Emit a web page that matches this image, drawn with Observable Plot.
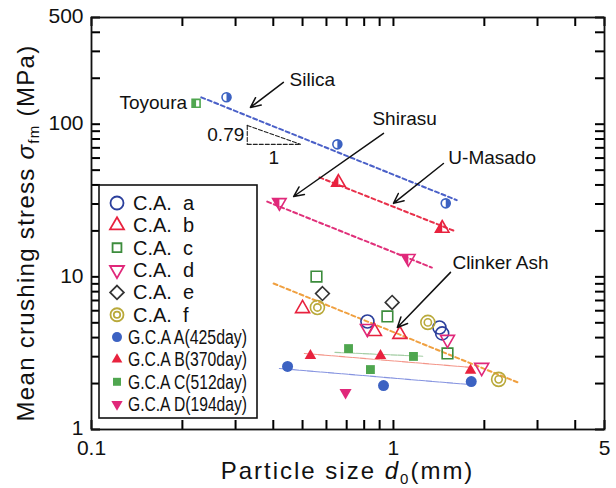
<!DOCTYPE html>
<html><head><meta charset="utf-8">
<script src="https://cdn.jsdelivr.net/npm/d3@7"></script>
<script src="https://cdn.jsdelivr.net/npm/@observablehq/plot@0.6"></script>
<style>body{margin:0;background:#fff}</style>
</head><body><div id="chart"></div>
<script>
// ---- axis ticks ----
const xTickLabels = [0.1, 1, 5];
const yTickLabels = [1, 10, 100, 500];
const xMinorTicks = [0.2,0.3,0.4,0.5,0.6,0.7,0.8,0.9,2,3,4];
const yMinorTicks = [2,3,4,5,6,7,8,9,20,30,40,50,60,70,80,90,200,300,400];

// ---- named sands (half-filled markers) ----
const silicaX = [0.28, 0.652, 1.49];
const silicaY = [150, 73.8, 30.3];
const toyouraX = [0.222];
const toyouraY = [137];
const shirasuX = [0.419, 1.12];
const shirasuY = [30.7, 13.2];
const umasadoX = [0.657, 1.45];
const umasadoY = [41.6, 20.8];

// ---- clinker ash C.A. a-f (open markers) ----
const caA_x = [0.82, 1.42, 1.45];   const caA_y = [5.1, 4.66, 4.26];
const caB_x = [0.50, 0.865, 1.05];  const caB_y = [6.2, 4.39, 4.2];
const caC_x = [0.556, 0.955, 1.51]; const caC_y = [10.05, 5.5, 3.15];
const caD_x = [0.82, 1.51, 1.96];   const caD_y = [4.59, 3.89, 2.55];
const caE_x = [0.582, 0.99];        const caE_y = [7.77, 6.8];
const caF_x = [0.56, 1.30, 2.23];   const caF_y = [6.3, 5.03, 2.13];

// ---- G.C.A A-D (filled markers) ----
const gcaA_x = [0.446, 0.927, 1.81]; const gcaA_y = [2.59, 1.94, 2.06];
const gcaB_x = [0.531, 0.906, 1.80]; const gcaB_y = [3.05, 3.05, 2.44];
const gcaC_x = [0.71, 1.165, 0.839]; const gcaC_y = [3.39, 3.01, 2.47];
const gcaD_x = [0.694];              const gcaD_y = [1.75];

// ---- fitted lines ----
const silicaLineX = [0.231, 1.62];  const silicaLineY = [150, 31.8];
const umasadoLineX = [0.569, 1.58]; const umasadoLineY = [44.8, 20.1];
const shirasuLineX = [0.382, 1.34]; const shirasuLineY = [31.1, 11.5];
const clinkerLineX = [0.401, 2.59]; const clinkerLineY = [9.04, 2.03];
const fitA_x = [0.419, 1.785]; const fitA_y = [2.51, 1.97];
const fitB_x = [0.507, 1.82];  const fitB_y = [3.15, 2.55];
const fitC_x = [0.64, 1.25];   const fitC_y = [3.2, 3.02];

// ---- slope triangle ----
const slopeX = [0.328, 0.492];
const slopeY = [98.2, 73.8];

// ---- annotations ----
const labelTexts = ["Silica", "Shirasu", "U-Masado", "Clinker Ash"];
const labelX = [0.453, 0.852, 1.52, 1.568];
const labelY = [194, 109, 59.7, 12.4];
const arrowFromX = [0.432, 0.927, 1.464, 1.545];
const arrowFromY = [188, 87.1, 55.3, 10.7];
const arrowToX = [0.336, 0.467, 1.0, 1.03];
const arrowToY = [128.8, 33.6, 30.3, 4.66];

const legendLabels = ["C.A.  a","C.A.  b","C.A.  c","C.A.  d","C.A.  e","C.A.  f",
  "G.C.A A(425day)","G.C.A B(370day)","G.C.A C(512day)","G.C.A D(194day)"];

// colours
const cBlue = "#2b3f9c", cRed = "#e8223e", cGreen = "#3c8c3c", cMag = "#e0287a",
      cGray = "#333333", cOlive = "#b9a93a", cBlueF = "#3c62c2", cGreenF = "#4fa64f";

// ---- custom symbols ----
const S3 = Math.sqrt(3);
const triDown = {draw(ctx, size){ const y = -Math.sqrt(size/(S3*3));
  ctx.moveTo(0,-2*y); ctx.lineTo(-S3*y, y); ctx.lineTo(S3*y, y); ctx.closePath(); }};
const halfCircle = {draw(ctx, size){ const r = Math.sqrt(size/Math.PI);
  ctx.moveTo(0,-r); ctx.arc(0,0,r,-Math.PI/2,Math.PI/2); ctx.closePath(); }};
const halfSquare = {draw(ctx, size){ const s = Math.sqrt(size)/2;
  ctx.moveTo(-s,-s); ctx.lineTo(0,-s); ctx.lineTo(0,s); ctx.lineTo(-s,s); ctx.closePath(); }};
const halfTriUp = {draw(ctx, size){ const y = -Math.sqrt(size/(S3*3));
  ctx.moveTo(0,2*y); ctx.lineTo(0,-y); ctx.lineTo(S3*y,-y); ctx.closePath(); }};
const halfTriDown = {draw(ctx, size){ const y = -Math.sqrt(size/(S3*3));
  ctx.moveTo(0,-2*y); ctx.lineTo(0,y); ctx.lineTo(S3*y,y); ctx.closePath(); }};

const pts = (xs, ys) => xs.map((x, i) => ({x, y: ys[i]}));

const openDot = (xs, ys, symbol, stroke, r) =>
  Plot.dot(pts(xs, ys), {x: "x", y: "y", symbol, stroke, fill: "none", strokeWidth: 1.6, r});
const fillDot = (xs, ys, symbol, fill, r) =>
  Plot.dot(pts(xs, ys), {x: "x", y: "y", symbol, fill, stroke: "none", r});
const dashLine = (xs, ys, stroke) =>
  Plot.line(pts(xs, ys), {x: "x", y: "y", stroke, strokeWidth: 2, strokeDasharray: "4,3"});
const thinLine = (xs, ys, stroke) =>
  Plot.line(pts(xs, ys), {x: "x", y: "y", stroke, strokeWidth: 1.1, strokeOpacity: 0.8, strokeDasharray: "6,1"});

const W = 616, H = 488, ML = 91, MR = 12, MT = 17, MB = 59;
const FW = W - ML - MR, FH = H - MT - MB, TL = 9;
const xDomain = [0.1, 5], yDomain = [1, 500];

const slopeLines = [
  [{x: slopeX[0], y: slopeY[0]}, {x: slopeX[0], y: slopeY[1]}],
  [{x: slopeX[0], y: slopeY[1]}, {x: slopeX[1], y: slopeY[1]}],
  [{x: slopeX[0], y: slopeY[0]}, {x: slopeX[1], y: slopeY[1]}]
];
const allX = [...xTickLabels, ...xMinorTicks];
const allY = [...yTickLabels, ...yMinorTicks];
const tk = {stroke: "#000", strokeWidth: 2, strokeOpacity: 1};

const chart = Plot.plot({
  width: W, height: H,
  marginLeft: ML, marginRight: MR, marginTop: MT, marginBottom: MB,
  x: {type: "log", domain: xDomain, axis: null},
  y: {type: "log", domain: yDomain, axis: null},
  style: {fontFamily: "'Liberation Sans', Arial, sans-serif", fontSize: "21px", background: "white", color: "#111"},
  marks: [
    // tick labels
    Plot.text(xTickLabels, {x: d => d, frameAnchor: "bottom", dy: 25, text: d => String(d), fontSize: 21, fill: "#111"}),
    Plot.text(yTickLabels, {y: d => d, frameAnchor: "left", dx: -8, dy: -1, textAnchor: "end", text: d => String(d), fontSize: 21, fill: "#111"}),
    // inward ticks on all four sides
    Plot.tickX(allX, {x: d => d, ...tk, insetTop: FH - TL}),
    Plot.tickX(allX, {x: d => d, ...tk, insetBottom: FH - TL}),
    Plot.tickY(allY, {y: d => d, ...tk, insetRight: FW - TL}),
    Plot.tickY(allY, {y: d => d, ...tk, insetLeft: FW - TL}),
    // lines
    dashLine(silicaLineX, silicaLineY, "#4a60c8"),
    dashLine(umasadoLineX, umasadoLineY, "#e8304a"),
    dashLine(shirasuLineX, shirasuLineY, "#e0307a"),
    dashLine(clinkerLineX, clinkerLineY, "#f0a040"),
    thinLine(fitA_x, fitA_y, "#6678d8"),
    thinLine(fitB_x, fitB_y, "#f07a6a"),
    thinLine(fitC_x, fitC_y, "#8cc08c"),
    ...slopeLines.map(s => Plot.line(s, {x: "x", y: "y", stroke: "#222", strokeWidth: 1.1, strokeDasharray: "4,2"})),
    // named sands
    openDot(silicaX, silicaY, "circle", cBlueF, 4.5),
    fillDot(silicaX, silicaY, halfCircle, cBlueF, 4.5),
    openDot(toyouraX, toyouraY, "square", cGreenF, 4.5),
    fillDot(toyouraX, toyouraY, halfSquare, cGreenF, 4.5),
    openDot(umasadoX, umasadoY, "triangle", cRed, 5),
    fillDot(umasadoX, umasadoY, halfTriUp, cRed, 5),
    openDot(shirasuX, shirasuY, triDown, cMag, 5),
    fillDot(shirasuX, shirasuY, halfTriDown, cMag, 5),
    // C.A.
    openDot(caA_x, caA_y, "circle", cBlue, 6.5),
    openDot(caB_x, caB_y, "triangle", cRed, 5.2),
    openDot(caC_x, caC_y, "square", cGreen, 6),
    openDot(caD_x, caD_y, triDown, cMag, 5.2),
    openDot(caE_x, caE_y, "diamond2", cGray, 6.2),
    openDot(caF_x, caF_y, "circle", cOlive, 7),
    openDot(caF_x, caF_y, "circle", cOlive, 3.6),
    // G.C.A.
    fillDot(gcaA_x, gcaA_y, "circle", cBlueF, 5.5),
    fillDot(gcaB_x, gcaB_y, "triangle", cRed, 4.3),
    fillDot(gcaC_x, gcaC_y, "square", cGreenF, 5),
    fillDot(gcaD_x, gcaD_y, triDown, cMag, 4.5),
    // annotations
    Plot.arrow(arrowFromX.map((x, i) => i), {
      x1: i => arrowFromX[i], y1: i => arrowFromY[i], x2: i => arrowToX[i], y2: i => arrowToY[i],
      stroke: "#111", strokeWidth: 1.5, headLength: 11, headAngle: 50}),
    Plot.text(labelTexts, {x: (d, i) => labelX[i], y: (d, i) => labelY[i], text: d => d,
      textAnchor: "start", fontSize: 19, fill: "#111"}),
    Plot.text(["Toyoura"], {x: toyouraX[0], y: toyouraY[0], text: d => d, textAnchor: "end", dx: -9, fontSize: 19, fill: "#111"}),
    Plot.text(["0.79"], {x: slopeX[0], y: Math.sqrt(slopeY[0]*slopeY[1]), text: d => d, textAnchor: "end", dx: -3, fontSize: 19, fill: "#111"}),
    Plot.text(["1"], {x: Math.sqrt(slopeX[0]*slopeX[1]), y: slopeY[1], text: d => d, dy: 14, fontSize: 19, fill: "#111"}),
    Plot.frame({stroke: "#111", strokeWidth: 1.8})
  ]
});
document.getElementById("chart").appendChild(chart);

const svg = d3.select(chart);

// ---- axis titles ----
const xt = svg.append("text").attr("x", ML + FW / 2).attr("y", 479).attr("text-anchor", "middle")
  .style("font-size", "24px").style("letter-spacing", "2px").attr("fill", "#111");
xt.append("tspan").text("Particle size ");
xt.append("tspan").text("d").style("font-style", "italic");
xt.append("tspan").text("0").style("font-size", "15px").attr("dy", 5);
xt.append("tspan").text("(mm)").attr("dy", -5);

const yt = svg.append("text").attr("transform", `translate(34,${MT + FH / 2 + 10}) rotate(-90)`)
  .attr("text-anchor", "middle").style("font-size", "24px").style("letter-spacing", "1.3px").attr("fill", "#111");
yt.append("tspan").text("Mean crushing stress ");
yt.append("tspan").text("σ").style("font-style", "italic");
yt.append("tspan").text("fm").style("font-size", "15px").attr("dy", 5);
yt.append("tspan").text(" (MPa)").attr("dy", -5);

// ---- legend ----
const lg = svg.append("g").attr("text-anchor", "start");
lg.append("rect").attr("x", 99).attr("y", 185).attr("width", 158).attr("height", 233)
  .attr("fill", "white").attr("stroke", "#111").attr("stroke-width", 1.6);
const legendSyms = [
  {t: d3.symbolCircle, r: 6.5, c: cBlue, f: false},
  {t: d3.symbolTriangle, r: 5.2, c: cRed, f: false},
  {t: d3.symbolSquare, r: 5, c: cGreen, f: false},
  {t: triDown, r: 5.2, c: cMag, f: false},
  {t: d3.symbolDiamond2, r: 6.2, c: cGray, f: false},
  {t: d3.symbolCircle, r: 6.5, c: cOlive, f: false, dbl: true},
  {t: d3.symbolCircle, r: 5, c: cBlueF, f: true},
  {t: d3.symbolTriangle, r: 4, c: cRed, f: true},
  {t: d3.symbolSquare, r: 4.5, c: cGreenF, f: true},
  {t: triDown, r: 4.2, c: cMag, f: true}
];
legendLabels.forEach((lab, i) => {
  const y = 203 + i * 22.35;
  const s = legendSyms[i];
  const g = lg.append("g").attr("transform", `translate(117,${y})`);
  g.append("path").attr("d", d3.symbol().type(s.t).size(Math.PI * s.r * s.r)())
    .attr("fill", s.f ? s.c : "none").attr("stroke", s.f ? "none" : s.c).attr("stroke-width", 1.8);
  if (s.dbl) g.append("circle").attr("r", 3.2).attr("fill", "none").attr("stroke", s.c).attr("stroke-width", 1.8);
  const t = lg.append("text").attr("x", i < 6 ? 133 : 128).attr("y", y).attr("dy", "0.35em")
    .attr("text-anchor", "start").attr("fill", "#111").style("font-size", "20px")
    .style("white-space", "pre").text(lab);
  if (i >= 6) t.attr("textLength", 119).attr("lengthAdjust", "spacingAndGlyphs");
});
</script></body></html>
